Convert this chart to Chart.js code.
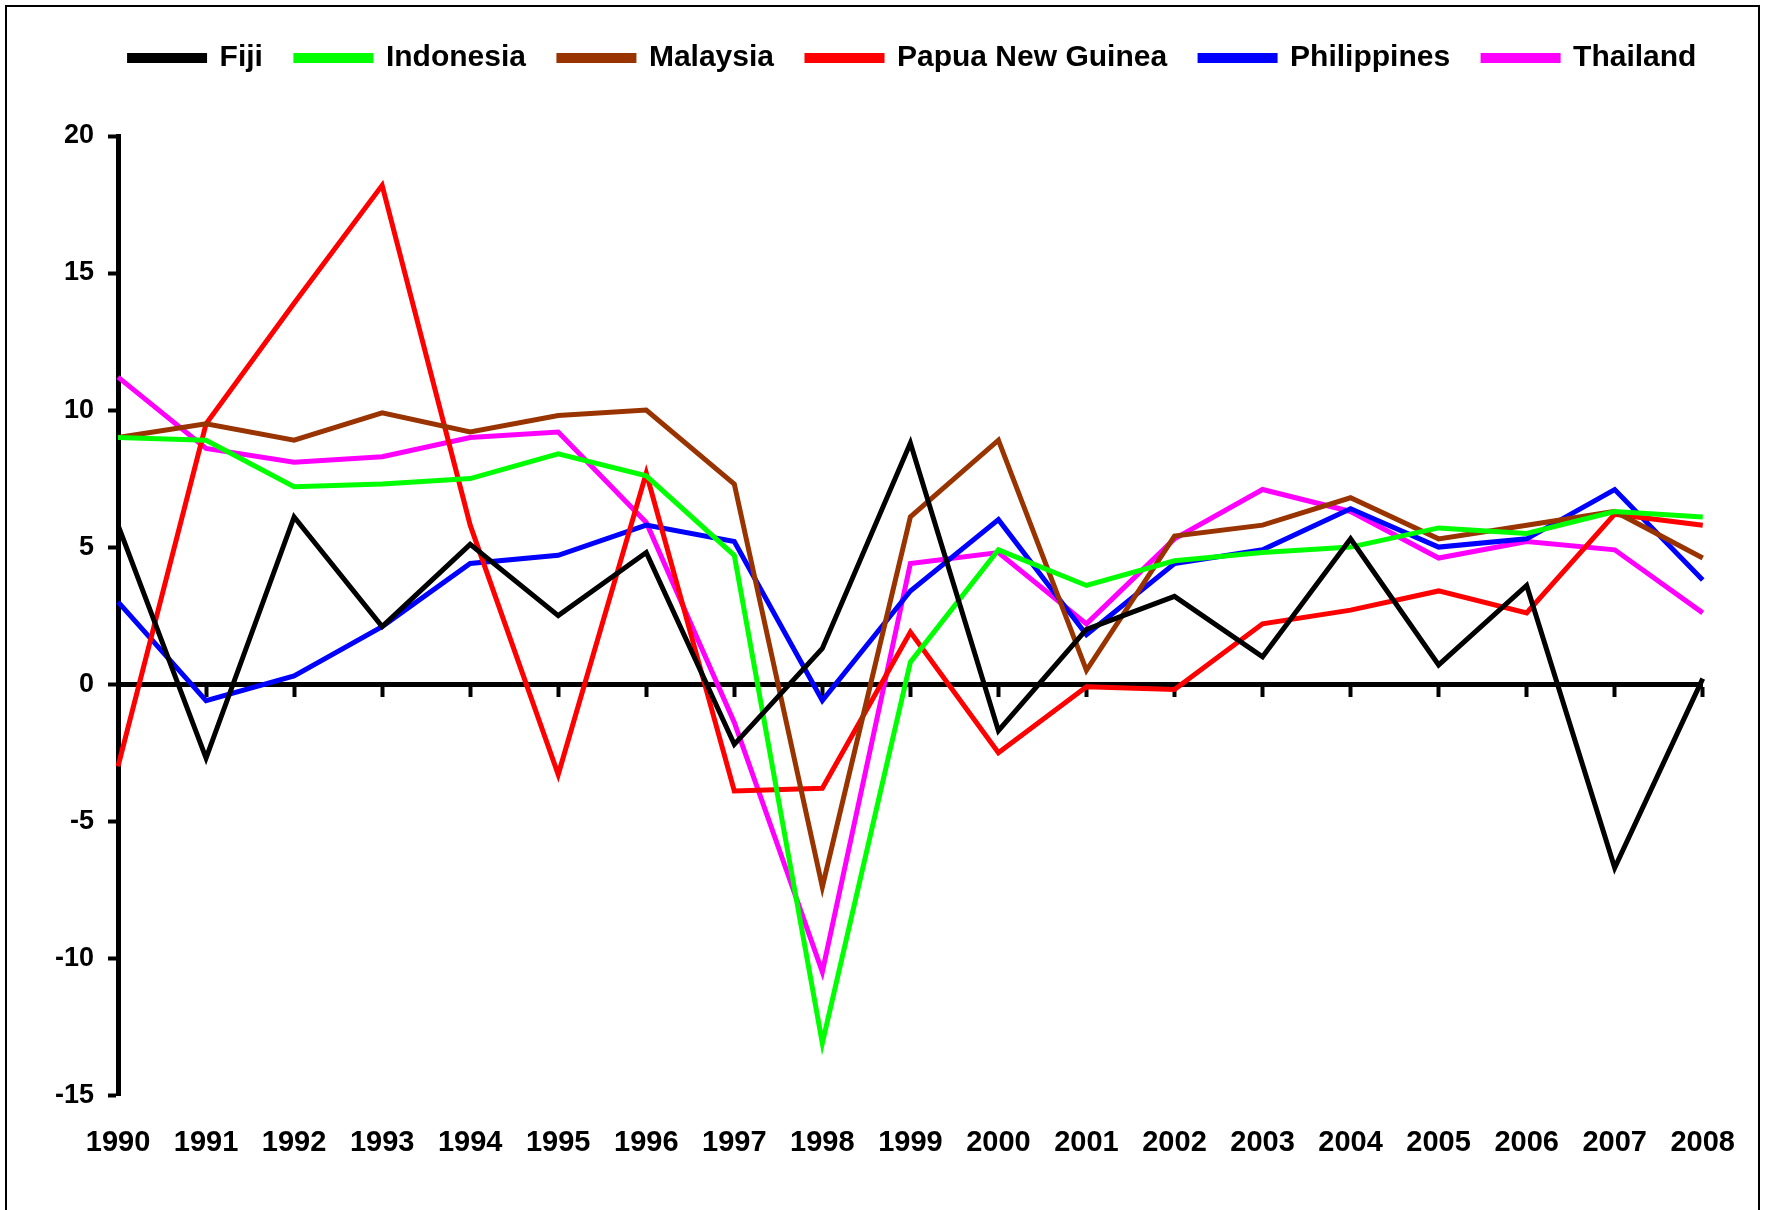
<!DOCTYPE html>
<html>
<head>
<meta charset="utf-8">
<script src="https://cdn.jsdelivr.net/npm/chart.js@4"></script>
<style>
  html, body { margin: 0; padding: 0; background: #fff; }
  #wrap { position: absolute; left: 0; top: 0; width: 1765px; height: 1210px; }
  #frame { position: absolute; left: 5px; top: 5px; width: 1751px; height: 1210px;
           border-top: 2px solid #000; border-left: 2px solid #000; border-right: 2px solid #000;
           pointer-events: none; }
</style>
</head>
<body>
<div id="wrap"><canvas id="growthChart"></canvas></div>
<div id="frame"></div>
<script>
const years = ['1990','1991','1992','1993','1994','1995','1996','1997','1998','1999',
               '2000','2001','2002','2003','2004','2005','2006','2007','2008'];

const fiji        = [5.8, -2.7, 6.1, 2.1, 5.1, 2.5, 4.8, -2.2, 1.3, 8.8, -1.7, 2.0, 3.2, 1.0, 5.3, 0.7, 3.6, -6.7, 0.2];
const indonesia   = [9.0, 8.9, 7.2, 7.3, 7.5, 8.4, 7.6, 4.7, -13.1, 0.8, 4.9, 3.6, 4.5, 4.8, 5.0, 5.7, 5.5, 6.3, 6.1];
const malaysia    = [9.0, 9.5, 8.9, 9.9, 9.2, 9.8, 10.0, 7.3, -7.4, 6.1, 8.9, 0.5, 5.4, 5.8, 6.8, 5.3, 5.8, 6.3, 4.6];
const papua       = [-3.0, 9.5, 13.9, 18.2, 5.8, -3.3, 7.7, -3.9, -3.8, 1.9, -2.5, -0.1, -0.2, 2.2, 2.7, 3.4, 2.6, 6.2, 5.8];
const philippines = [3.0, -0.6, 0.3, 2.1, 4.4, 4.7, 5.8, 5.2, -0.6, 3.4, 6.0, 1.8, 4.4, 4.9, 6.4, 5.0, 5.3, 7.1, 3.8];
const thailand    = [11.2, 8.6, 8.1, 8.3, 9.0, 9.2, 5.9, -1.4, -10.5, 4.4, 4.8, 2.2, 5.3, 7.1, 6.3, 4.6, 5.2, 4.9, 2.6];

const yMin = -15, yMax = 20, yStep = 5;

function series(label, data, color) {
    return {
        label: label,
        data: data,
        borderColor: color,
        backgroundColor: color,
        borderWidth: 5,
        pointRadius: 0,
        tension: 0,
        fill: false
    };
}

// push the plot down below the legend, and nudge the legend a bit to the right
const legendTweak = {
    id: 'legendTweak',
    beforeInit(chart) {
        const fit = chart.legend.fit;
        chart.legend.fit = function() {
            fit.bind(chart.legend)();
            this.height += 53;
        };
    },
    afterLayout(chart) {
        chart.legend.left += 40;
        chart.legend.right += 40;
    }
};

const fontFamily = '"Liberation Sans", Arial, sans-serif';

new Chart(document.getElementById('growthChart').getContext('2d'), {
    type: 'line',
    data: {
        labels: years,
        datasets: [
            series('Fiji', fiji, '#000000'),
            series('Indonesia', indonesia, '#00ff00'),
            series('Malaysia', malaysia, '#993300'),
            series('Papua New Guinea', papua, '#ff0000'),
            series('Philippines', philippines, '#0000ff'),
            series('Thailand', thailand, '#ff00ff')
        ]
    },
    options: {
        responsive: true,
        maintainAspectRatio: false,
        animation: false,
        layout: { padding: { top: 10, left: 41, right: 60, bottom: 20 } },
        plugins: {
            legend: {
                position: 'top',
                labels: {
                    boxWidth: 75,
                    boxHeight: 5,
                    padding: 33,
                    color: '#000',
                    font: { family: fontFamily, size: 30, weight: 'bold' }
                }
            },
            tooltip: { enabled: false }
        },
        scales: {
            x: {
                type: 'category',
                offset: false,
                grid: { display: false, drawTicks: false },
                border: { display: false },
                ticks: { color: '#000', font: { family: fontFamily, size: 29, weight: 'bold' },
                         padding: 30, maxRotation: 0, autoSkip: false }
            },
            xZero: {
                type: 'category',
                offset: false,
                position: { y: 0 },
                grid: { drawOnChartArea: false, drawTicks: true, tickLength: 10, tickWidth: 4, tickColor: '#000' },
                border: { display: true, color: '#000', width: 5 },
                ticks: { display: false }
            },
            y: {
                min: yMin,
                max: yMax,
                ticks: { stepSize: yStep, color: '#000', font: { family: fontFamily, size: 27, weight: 'bold' }, padding: 14 },
                grid: { drawOnChartArea: false, drawTicks: true, tickLength: 10, tickWidth: 4, tickColor: '#000' },
                border: { display: true, color: '#000', width: 5 }
            }
        }
    },
    plugins: [legendTweak]
});
</script>
</body>
</html>
